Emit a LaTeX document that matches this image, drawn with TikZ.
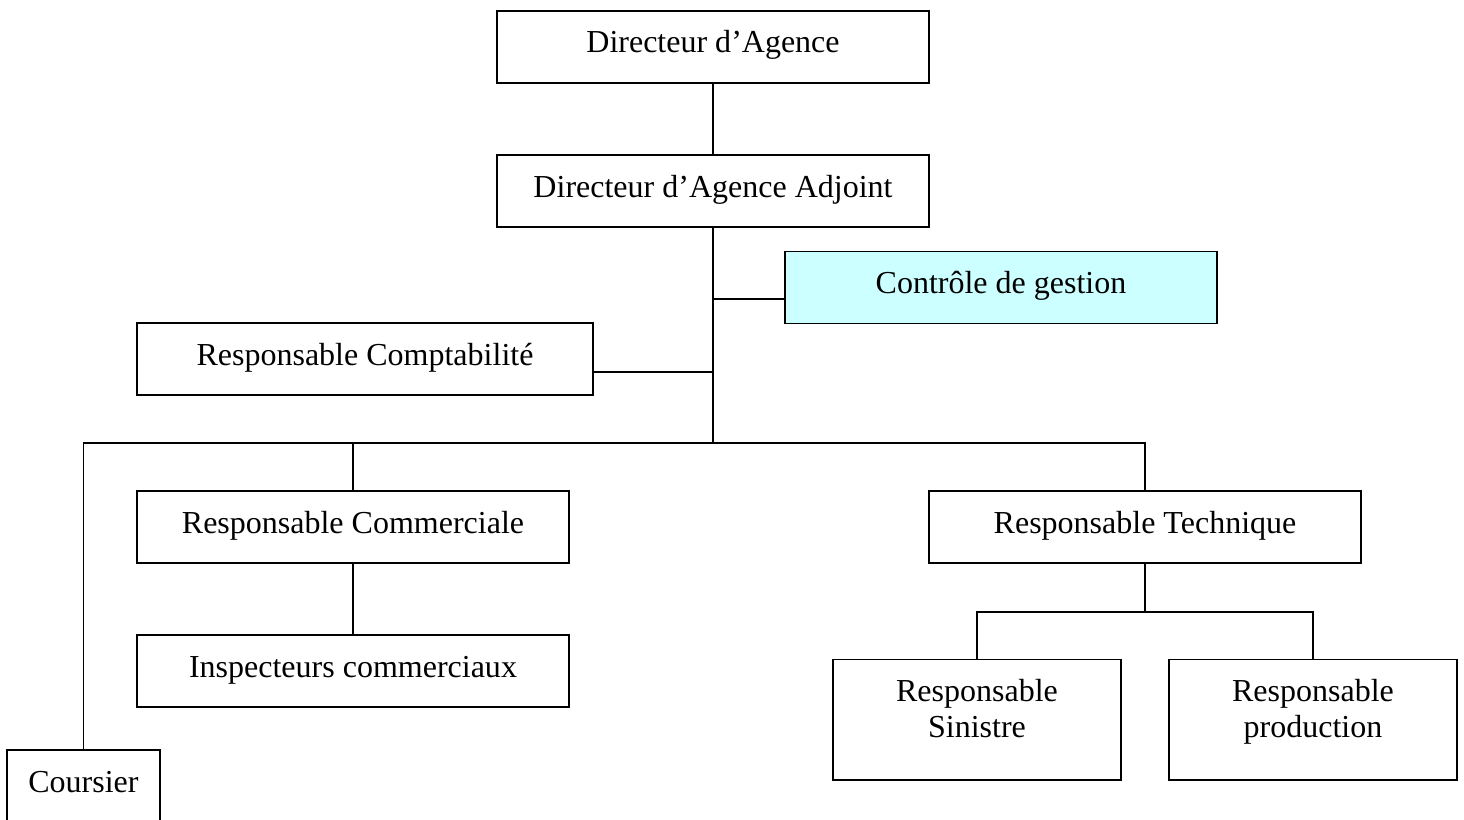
\documentclass[tikz,border=0pt]{standalone}
\usepackage{fontspec}
\setmainfont{Liberation Serif}
\definecolor{ctrlfill}{HTML}{CCFFFF}
\begin{document}
\begin{tikzpicture}[x=0.025cm,y=-0.025cm,line width=1.4pt,
  box/.style={draw,rectangle,inner sep=0pt,minimum width=10.8cm,minimum height=1.8cm,
    text height=0.55cm,text depth=0.25cm,font=\fontsize{22.76}{24.9}\selectfont},
  box2/.style={box,minimum width=7.2cm,minimum height=3cm,align=center,
    text height=1.1cm,text depth=0.225cm}]
\useasboundingbox (0,0) rectangle (1464,820);
\node[box] (d1) at (713,47) {Directeur d’Agence};
\node[box] (d2) at (713,191) {Directeur d’Agence Adjoint};
\node[box,fill=ctrlfill] (cg) at (1001,287.5) {Contrôle de gestion};
\node[box,minimum width=11.4cm] (rc) at (365,359) {Responsable Comptabilité};
\node[box] (rcom) at (353,527) {Responsable Commerciale};
\node[box] (ic) at (353,671) {Inspecteurs commerciaux};
\node[box] (rt) at (1145,527) {Responsable Technique};
\node[box2] (rs) at (977,719.5) {Responsable\\Sinistre};
\node[box2] (rp) at (1313,719.5) {Responsable\\production};
\node[box,minimum width=3.825cm] (co) at (83.5,786) {Coursier};
\coordinate (bus) at (713,443);
\coordinate (j1) at (713,299);
\coordinate (j2) at (713,372);
\coordinate (j3) at (1145,612);
\draw (d1) -- (d2);
\draw (d2) -- (bus);
\draw (j1) -- (j1 -| cg.west);
\draw (j2) -- (j2 -| rc.east);
\draw (co.north) |- (bus) -| (rt.north);
\draw (rcom.north) -- (rcom.north |- bus);
\draw (rcom) -- (ic);
\draw (rt) -- (j3);
\draw (rs.north) |- (j3) -| (rp.north);
\end{tikzpicture}
\end{document}
